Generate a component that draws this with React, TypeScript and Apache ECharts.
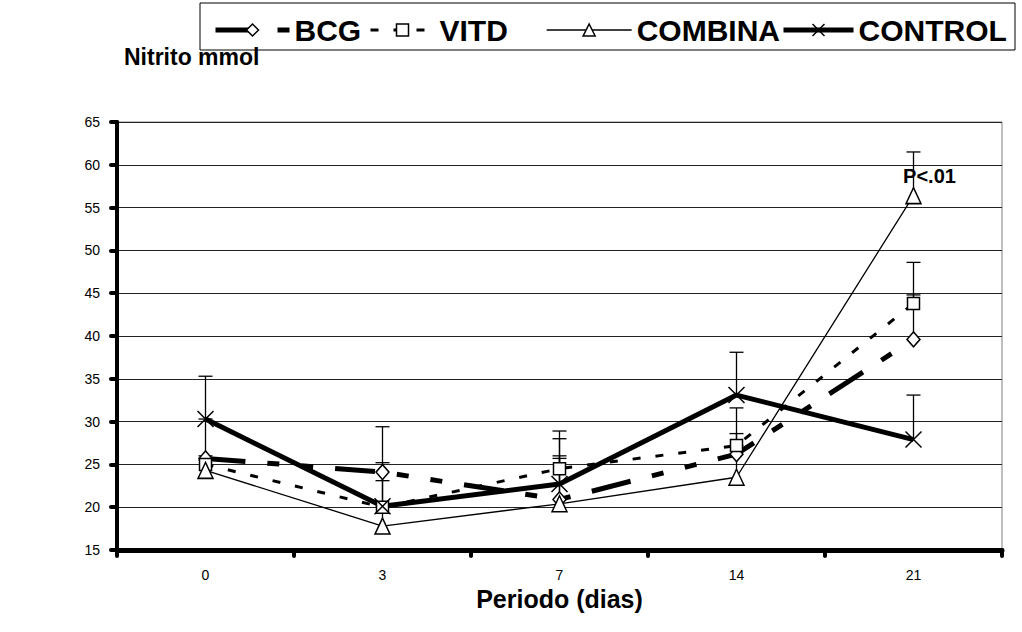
import React, { useEffect, useRef } from "react";
import * as echarts from "echarts";

const categories = ["0", "3", "7", "14", "21"];
const seriesNames = ["BCG", "VITD", "COMBINA", "CONTROL"];
const bcg = [25.7, 24.1, 20.9, 26.2, 39.6];
const bcgTop = [30.3, 29.4, 25.7, 28.6, 44.8];
const vitd = [25.0, 20.0, 24.5, 27.2, 43.8];
const vitdTop = [26.0, 23.1, 28.9, 31.6, 48.6];
const combina = [24.3, 17.8, 20.4, 23.5, 56.4];
const combinaTop = [25.5, 20.0, 26.0, 27.2, 61.5];
const control = [30.3, 20.1, 22.7, 33.1, 27.9];
const controlTop = [35.3, 25.2, 28.0, 38.1, 33.1];
const yMin = 15;
const yMax = 65;
const yStep = 5;
const pNote = "P<.01";
const pNoteIndex = 4;

const FONT = "'Liberation Sans', Arial, sans-serif";
const X_SYMBOL = "path://M0,0L10,10M10,0L0,10";

const BCG_DASH = [40, 22, 12, 22, 12, 22];
const VITD_DASH = [8, 15];

function errSeries(name: string, vals: number[], tops: number[]) {
  return {
    type: "custom",
    name: name + "-err",
    silent: true,
    z: 1,
    data: vals.map((v, i) => [i, v, tops[i]]),
    encode: { x: 0, y: [1, 2] },
    renderItem: (params: any, api: any) => {
      const p0 = api.coord([api.value(0), api.value(1)]);
      const p1 = api.coord([api.value(0), api.value(2)]);
      return {
        type: "group",
        children: [
          {
            type: "line",
            shape: { x1: p0[0], y1: p0[1], x2: p1[0], y2: p1[1] },
            style: { stroke: "#000", lineWidth: 1.3 },
          },
          {
            type: "line",
            shape: { x1: p1[0] - 7, y1: p1[1], x2: p1[0] + 7, y2: p1[1] },
            style: { stroke: "#000", lineWidth: 1.3 },
          },
        ],
      };
    },
  };
}

const legendText = { fontFamily: FONT, fontSize: 30, fontWeight: "bold", color: "#000" };

function oneLegend(name: string, left: number, width: number, lineWidth: number, dash: any) {
  return {
    data: [name],
    left,
    top: 10,
    itemWidth: width,
    itemHeight: 15,
    textStyle: legendText,
    lineStyle: { color: "#000", width: lineWidth, type: dash },
    itemStyle: { color: "#fff", borderColor: "#000", borderWidth: 1.5 },
    selectedMode: false,
  };
}

export default function App() {
  const ref = useRef<HTMLDivElement>(null);
  useEffect(() => {
    if (!ref.current) return;
    const chart = echarts.init(ref.current, undefined, { renderer: "svg" });
    const markerStyle = { color: "#fff", borderColor: "#000", borderWidth: 1.5 };
    chart.setOption({
      animation: false,
      backgroundColor: "#fff",
      title: {
        text: "Nitrito mmol",
        left: 119,
        top: 40,
        textStyle: { fontFamily: FONT, fontSize: 23, fontWeight: "bold", color: "#000" },
      },
      graphic: [
        {
          type: "rect",
          shape: { x: 200, y: 3, width: 815, height: 47 },
          style: { fill: "none", stroke: "#000", lineWidth: 1 },
          silent: true,
        },
      ],
      legend: [
        oneLegend(seriesNames[0], 208, 74, 5, BCG_DASH),
        oneLegend(seriesNames[1], 364, 64, 3, VITD_DASH),
        oneLegend(seriesNames[2], 541, 85, 1.3, "solid"),
        oneLegend(seriesNames[3], 776, 70, 5, "solid"),
      ],
      grid: {
        left: 117,
        top: 122,
        width: 885,
        height: 428,
        show: true,
        borderColor: "#808080",
        borderWidth: 1,
      },
      xAxis: {
        type: "category",
        data: categories,
        boundaryGap: true,
        name: "Periodo (dias)",
        nameLocation: "middle",
        nameGap: 32,
        nameTextStyle: { fontFamily: FONT, fontSize: 25, fontWeight: "bold", color: "#000" },
        axisLine: { show: true, lineStyle: { color: "#000", width: 5 } },
        axisTick: { show: true, length: 6, interval: 0, lineStyle: { color: "#000", width: 4, cap: "round" } },
        axisLabel: { margin: 18, fontFamily: FONT, fontSize: 14, color: "#000", interval: 0 },
        splitLine: { show: false },
      },
      yAxis: {
        type: "value",
        min: yMin,
        max: yMax,
        interval: yStep,
        axisLine: { show: true, lineStyle: { color: "#000", width: 4 } },
        axisTick: { show: true, length: 6, lineStyle: { color: "#000", width: 4, cap: "round" } },
        axisLabel: { margin: 17, fontFamily: FONT, fontSize: 14, color: "#000" },
        splitLine: { show: true, lineStyle: { color: "#222", width: 1 } },
      },
      series: [
        errSeries("BCG", bcg, bcgTop),
        errSeries("VITD", vitd, vitdTop),
        errSeries("COMBINA", combina, combinaTop),
        errSeries("CONTROL", control, controlTop),
        {
          type: "line",
          name: "BCG",
          data: bcg,
          z: 2,
          symbol: "diamond",
          symbolSize: [13, 15],
          itemStyle: markerStyle,
          lineStyle: { color: "#000", width: 5, type: BCG_DASH },
        },
        {
          type: "line",
          name: "VITD",
          data: vitd,
          z: 2,
          symbol: "rect",
          symbolSize: 12,
          itemStyle: markerStyle,
          lineStyle: { color: "#000", width: 3, type: VITD_DASH },
        },
        {
          type: "line",
          name: "COMBINA",
          z: 2,
          data: combina.map((v, i) =>
            i === pNoteIndex
              ? {
                  value: v,
                  label: {
                    show: true,
                    formatter: pNote,
                    position: "top",
                    offset: [16, 4],
                    fontFamily: FONT,
                    fontSize: 20,
                    fontWeight: "bold",
                    color: "#000",
                  },
                }
              : v
          ),
          symbol: "triangle",
          symbolSize: [15, 16],
          itemStyle: markerStyle,
          lineStyle: { color: "#000", width: 1.3 },
        },
        {
          type: "line",
          name: "CONTROL",
          data: control,
          z: 2,
          symbol: X_SYMBOL,
          symbolSize: 16,
          itemStyle: { color: "#fff", borderColor: "#000", borderWidth: 1.5 },
          lineStyle: { color: "#000", width: 5 },
        },
      ],
    });
    return () => chart.dispose();
  }, []);
  return (
    <div
      ref={ref}
      style={{ position: "fixed", left: 0, top: 0, width: 1022, height: 632 }}
    />
  );
}
